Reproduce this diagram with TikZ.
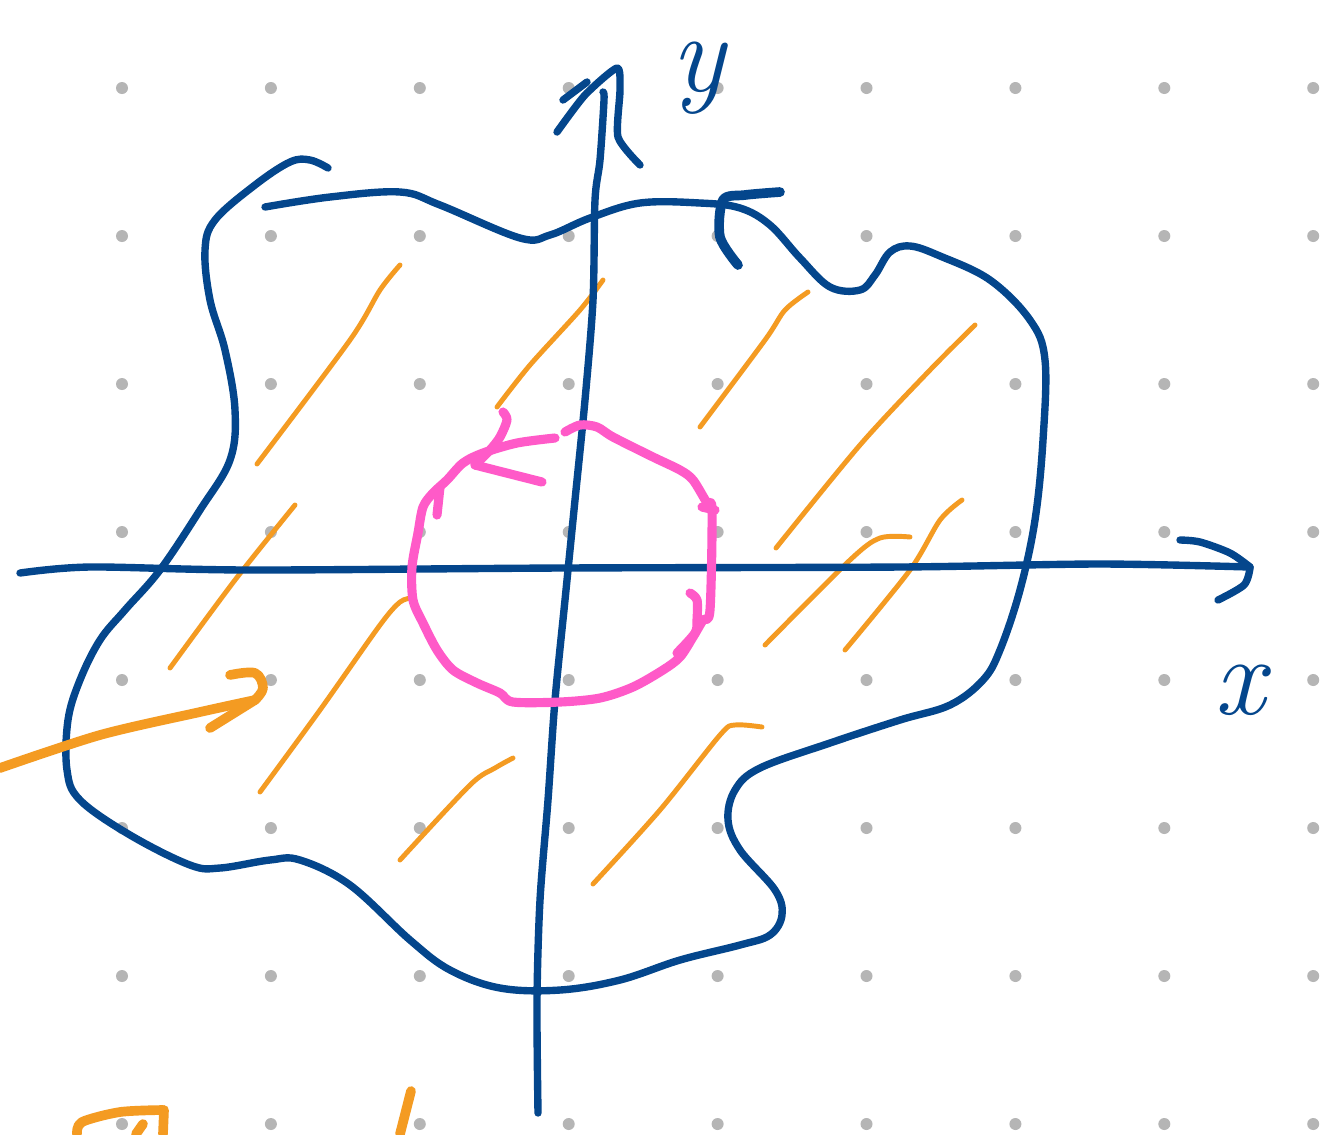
\documentclass[tikz,border=0pt]{standalone}
\usepackage{fontspec}
\usepackage{tikz}
\definecolor{inkblue}{RGB}{4,70,140}
\definecolor{inkorange}{RGB}{244,155,34}
\definecolor{inkpink}{RGB}{255,90,200}
\definecolor{dotgray}{RGB}{181,181,181}
\tikzset{
  ink/.style = {draw=inkblue, line width=4.2pt, line cap=round, line join=round},
  inkthick/.style = {draw=inkblue, line width=5.5pt, line cap=round, line join=round},
  hatch/.style = {draw=inkorange, line width=2.8pt, line cap=round, line join=round},
  pointer/.style = {draw=inkorange, line width=5.5pt, line cap=round, line join=round},
  loop/.style = {draw=inkpink, line width=5.2pt, line cap=round, line join=round},
  lbl/.style = {text=inkblue, font=\fontsize{64}{64}\selectfont\itshape, inner sep=0pt}
}

\begin{document}
\begin{tikzpicture}[x=0.02cm, y=-0.02cm]
  \fill[white] (0,0) rectangle (1324,1134);
  \useasboundingbox (0,0) rectangle (1324,1134);
  % dot grid
  \foreach \i in {0,...,8}
    \foreach \j in {0,...,7}
      \fill[dotgray] ({122+148.9*\i},{88+148*\j}) circle (0.12cm);

  % region boundary
  \draw[ink] plot[smooth, tension=0.6] coordinates {
    (265,207) (330,197) (400,192) (440,205) (520,238) (550,235) (590,218)
    (640,203) (700,203) (740,208) (770,225) (800,258) (830,287) (860,290)
    (875,275) (890,252) (910,246) (940,256) (990,280) (1030,320) (1045,360)
    (1043,440) (1035,520) (1020,590) (1000,650) (983,680) (950,705) (900,720)
    (830,743) (760,768) (735,790) (728,820) (740,850) (775,890) (782,915)
    (770,935) (740,945) (680,960) (620,980) (560,990) (500,988) (450,970)
    (410,940) (350,885) (300,860) (270,860) (220,868) (190,865) (130,835)
    (80,800) (67,770) (68,720) (80,680) (100,640) (125,610) (160,570)
    (200,510) (230,460) (235,410) (225,350) (210,300) (205,250) (215,220)
    (255,185) (290,162) (310,160) (328,168)};
  \draw[inkthick] plot[smooth, tension=0.5] coordinates {
    (780,192) (745,195) (723,200) (720,237) (738,265)};

  % hatching
  \draw[hatch] plot[smooth] coordinates {(257,464) (350,340) (380,290) (400,265)};
  \draw[hatch] plot[smooth] coordinates {(170,668) (235,580) (295,505)};
  \draw[hatch] plot[smooth] coordinates {(260,792) (320,710) (380,625) (400,602) (412,598)};
  \draw[hatch] plot[smooth] coordinates {(400,860) (470,785) (495,768) (513,758)};
  \draw[hatch] plot[smooth] coordinates {(593,884) (660,810) (720,735) (735,725) (762,727)};
  \draw[hatch] plot[smooth] coordinates {(497,407) (530,365) (580,310) (603,280)};
  \draw[hatch] plot[smooth] coordinates {(700,427) (765,340) (785,310) (808,292)};
  \draw[hatch] plot[smooth] coordinates {(776,548) (860,445) (930,370) (975,325)};
  \draw[hatch] plot[smooth] coordinates {(765,645) (850,560) (880,538) (910,537)};
  \draw[hatch] plot[smooth] coordinates {(845,650) (910,570) (940,520) (962,500)};

  % axes
  \draw[ink] plot[smooth, tension=0.5] coordinates {
    (20,573) (90,567) (250,570) (560,568) (900,567) (1100,564) (1250,567)};
  \draw[ink] plot[smooth, tension=0.5] coordinates {
    (1180,540) (1200,542) (1230,553) (1250,567)};
  \draw[ink] plot[smooth, tension=0.5] coordinates {
    (1250,568) (1244,585) (1218,600)};
  \draw[ink] plot[smooth, tension=0.5] coordinates {
    (538,1113) (537,1000) (540,900) (548,800) (555,700) (565,600) (575,500)
    (585,400) (593,300) (595,200) (600,160) (604,100) (603,92)};
  \draw[ink] plot[smooth, tension=0.4] coordinates {
    (557,132) (585,95) (617,68) (620,90) (618,137) (640,165)};
  \draw[ink] (563,100) -- (587,82);
  \node[lbl] (ylab) at (698,78) {y};
  \node[lbl] (xlab) at (1240,690) {x};

  % pink circulation
  \draw[loop] plot[smooth, tension=0.5] coordinates {
    (555,438) (517,443) (483,453) (463,463) (447,480) (433,493) (423,507)
    (418,533) (412,567) (413,600) (423,623) (437,650) (453,670) (477,683)
    (500,693) (513,702) (560,702) (600,698) (633,687) (663,670) (680,657)
    (693,637) (703,620) (710,610) (712,510) (707,503) (693,480) (680,470)
    (653,457) (613,437) (597,427) (580,425) (565,432)};
  \draw[loop] plot[smooth, tension=0.5] coordinates {
    (503,412) (507,420) (500,437) (490,450) (475,465)};
  \draw[loop] (475,465) -- (542,482);
  \draw[loop] (437,515) -- (440,487);
  \draw[loop] (702,507) -- (715,510);
  \draw[loop] plot[smooth, tension=0.5] coordinates {
    (690,593) (697,600) (697,620) (695,633) (677,653)};

  % orange pointer
  \draw[pointer] plot[smooth, tension=0.5] coordinates {
    (0,768) (100,735) (200,712) (255,700)};
  \draw[pointer] plot[smooth, tension=0.6] coordinates {
    (230,675) (255,673) (263,688) (255,700)};
  \draw[pointer] (255,700) -- (210,728);

  % cut-off strokes at the bottom
  \draw[pointer] plot[smooth, tension=0.5] coordinates {
    (77,1134) (82,1122) (120,1112) (163,1110)};
  \draw[pointer] (164,1110) -- (163,1134);
  \draw[pointer] (143,1124) -- (136,1134);
  \draw[pointer] (411,1091) -- (400,1134);
\end{tikzpicture}
\end{document}
